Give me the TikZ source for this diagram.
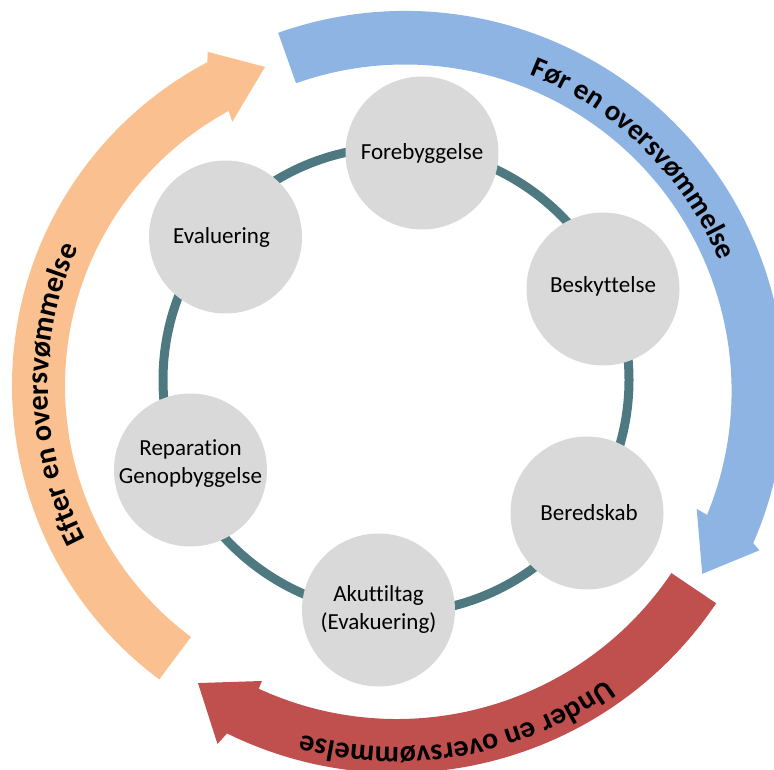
\documentclass[tikz,border=0pt]{standalone}
\usepackage{fontspec}
\setmainfont{Carlito}[Ligatures=CommonOff]
\usetikzlibrary{decorations.text}
\definecolor{bluearc}{HTML}{8EB4E3}
\definecolor{orangearc}{HTML}{FAC090}
\definecolor{redarc}{HTML}{C0504D}
\definecolor{ringcol}{HTML}{4E7980}
\definecolor{bubblefill}{HTML}{D9D9D9}
\begin{document}
\begin{tikzpicture}[x=1pt,y=1pt,
  bubble/.style={circle, fill=bubblefill, minimum size=153pt, inner sep=0pt},
  bubtext/.style={align=center, font=\fontsize{23}{28}\selectfont, text=black, inner sep=0pt},
  arctext/.style={decorate, decoration={text along path, text align=center, text={#1}}}
]
\useasboundingbox (0,0) rectangle (774,769);
\clip (0,0) rectangle (774,769);
\coordinate (B) at (405,378);
\coordinate (O) at (378,383);
\coordinate (R) at (397,381);
\coordinate (C) at (396,389);

% blue arc (before)
\fill[bluearc] ([shift={(B)}]109.5:380pt) arc[start angle=109.5, end angle=-23.6, radius=380pt]
  -- ([shift={(B)}]-24.2:388.6pt) -- ([shift={(B)}]-31.6:349pt) -- ([shift={(B)}]-22:314.6pt)
  -- ([shift={(B)}]-22.3:326.5pt) arc[start angle=-22.3, end angle=109.5, radius=326.5pt] -- cycle;
% red arc (during)
\fill[redarc] ([shift={(R)}]-34:385pt) arc[start angle=-34, end angle=-116.2, radius=385pt]
  -- ([shift={(R)}]-116.76:398.7pt) -- ([shift={(R)}]-124:355.9pt) -- ([shift={(R)}]-114.74:322.6pt)
  -- ([shift={(R)}]-114.7:331pt) arc[start angle=-114.7, end angle=-34, radius=331pt] -- cycle;
% orange arc (after)
\fill[orangearc] ([shift={(O)}]233.3:366pt) arc[start angle=233.3, end angle=117.8, radius=366pt]
  -- ([shift={(O)}]117:375pt) -- ([shift={(O)}]109.5:338.5pt) -- ([shift={(O)}]118.9:301.7pt)
  -- ([shift={(O)}]118.5:313pt) arc[start angle=118.5, end angle=233.3, radius=313pt] -- cycle;

% arc labels
\path[arctext={|\fontsize{29}{35}\selectfont\bfseries|Før en oversvømmelse}]
  ([shift={(B)}]85.45:340pt) arc[start angle=85.45, end angle=5.45, radius=340pt];
\path[arctext={|\fontsize{30}{36}\selectfont\bfseries|Under en oversvømmelse}]
  ([shift={(R)}]-39.8:359pt) arc[start angle=-39.8, end angle=-119.8, radius=359pt];
\path[arctext={|\fontsize{30}{36}\selectfont\bfseries|Efter en oversvømmelse}]
  ([shift={(O)}]221.55:330pt) arc[start angle=221.55, end angle=141.55, radius=330pt];

% inner ring
\draw[ringcol, line width=9pt] (C) circle[radius=233pt];

% bubbles
\node[bubble] (fore) at (422,616) {};
\node[bubble] (besk) at (603,480) {};
\node[bubble] (bered) at (587,256) {};
\node[bubble] (akut) at (378.5,159) {};
\node[bubble] (repar) at (190.5,299) {};
\node[bubble] (eval) at (225.5,532) {};

\node[bubtext] (foret) at (fore.center) {Forebyggelse};
\node[bubtext] (beskt) at ([yshift=3pt]besk.center) {Beskyttelse};
\node[bubtext] (beredt) at ([xshift=2pt]bered.center) {Beredskab};
\node[bubtext] (akutt) at ([yshift=1pt]akut.center) {Akuttiltag\\(Evakuering)};
\node[bubtext] (repart) at ([yshift=6pt]repar.center) {Reparation\\Genopbyggelse};
\node[bubtext] (evalt) at ([xshift=-4pt]eval.center) {Evaluering};
\end{tikzpicture}
\end{document}
